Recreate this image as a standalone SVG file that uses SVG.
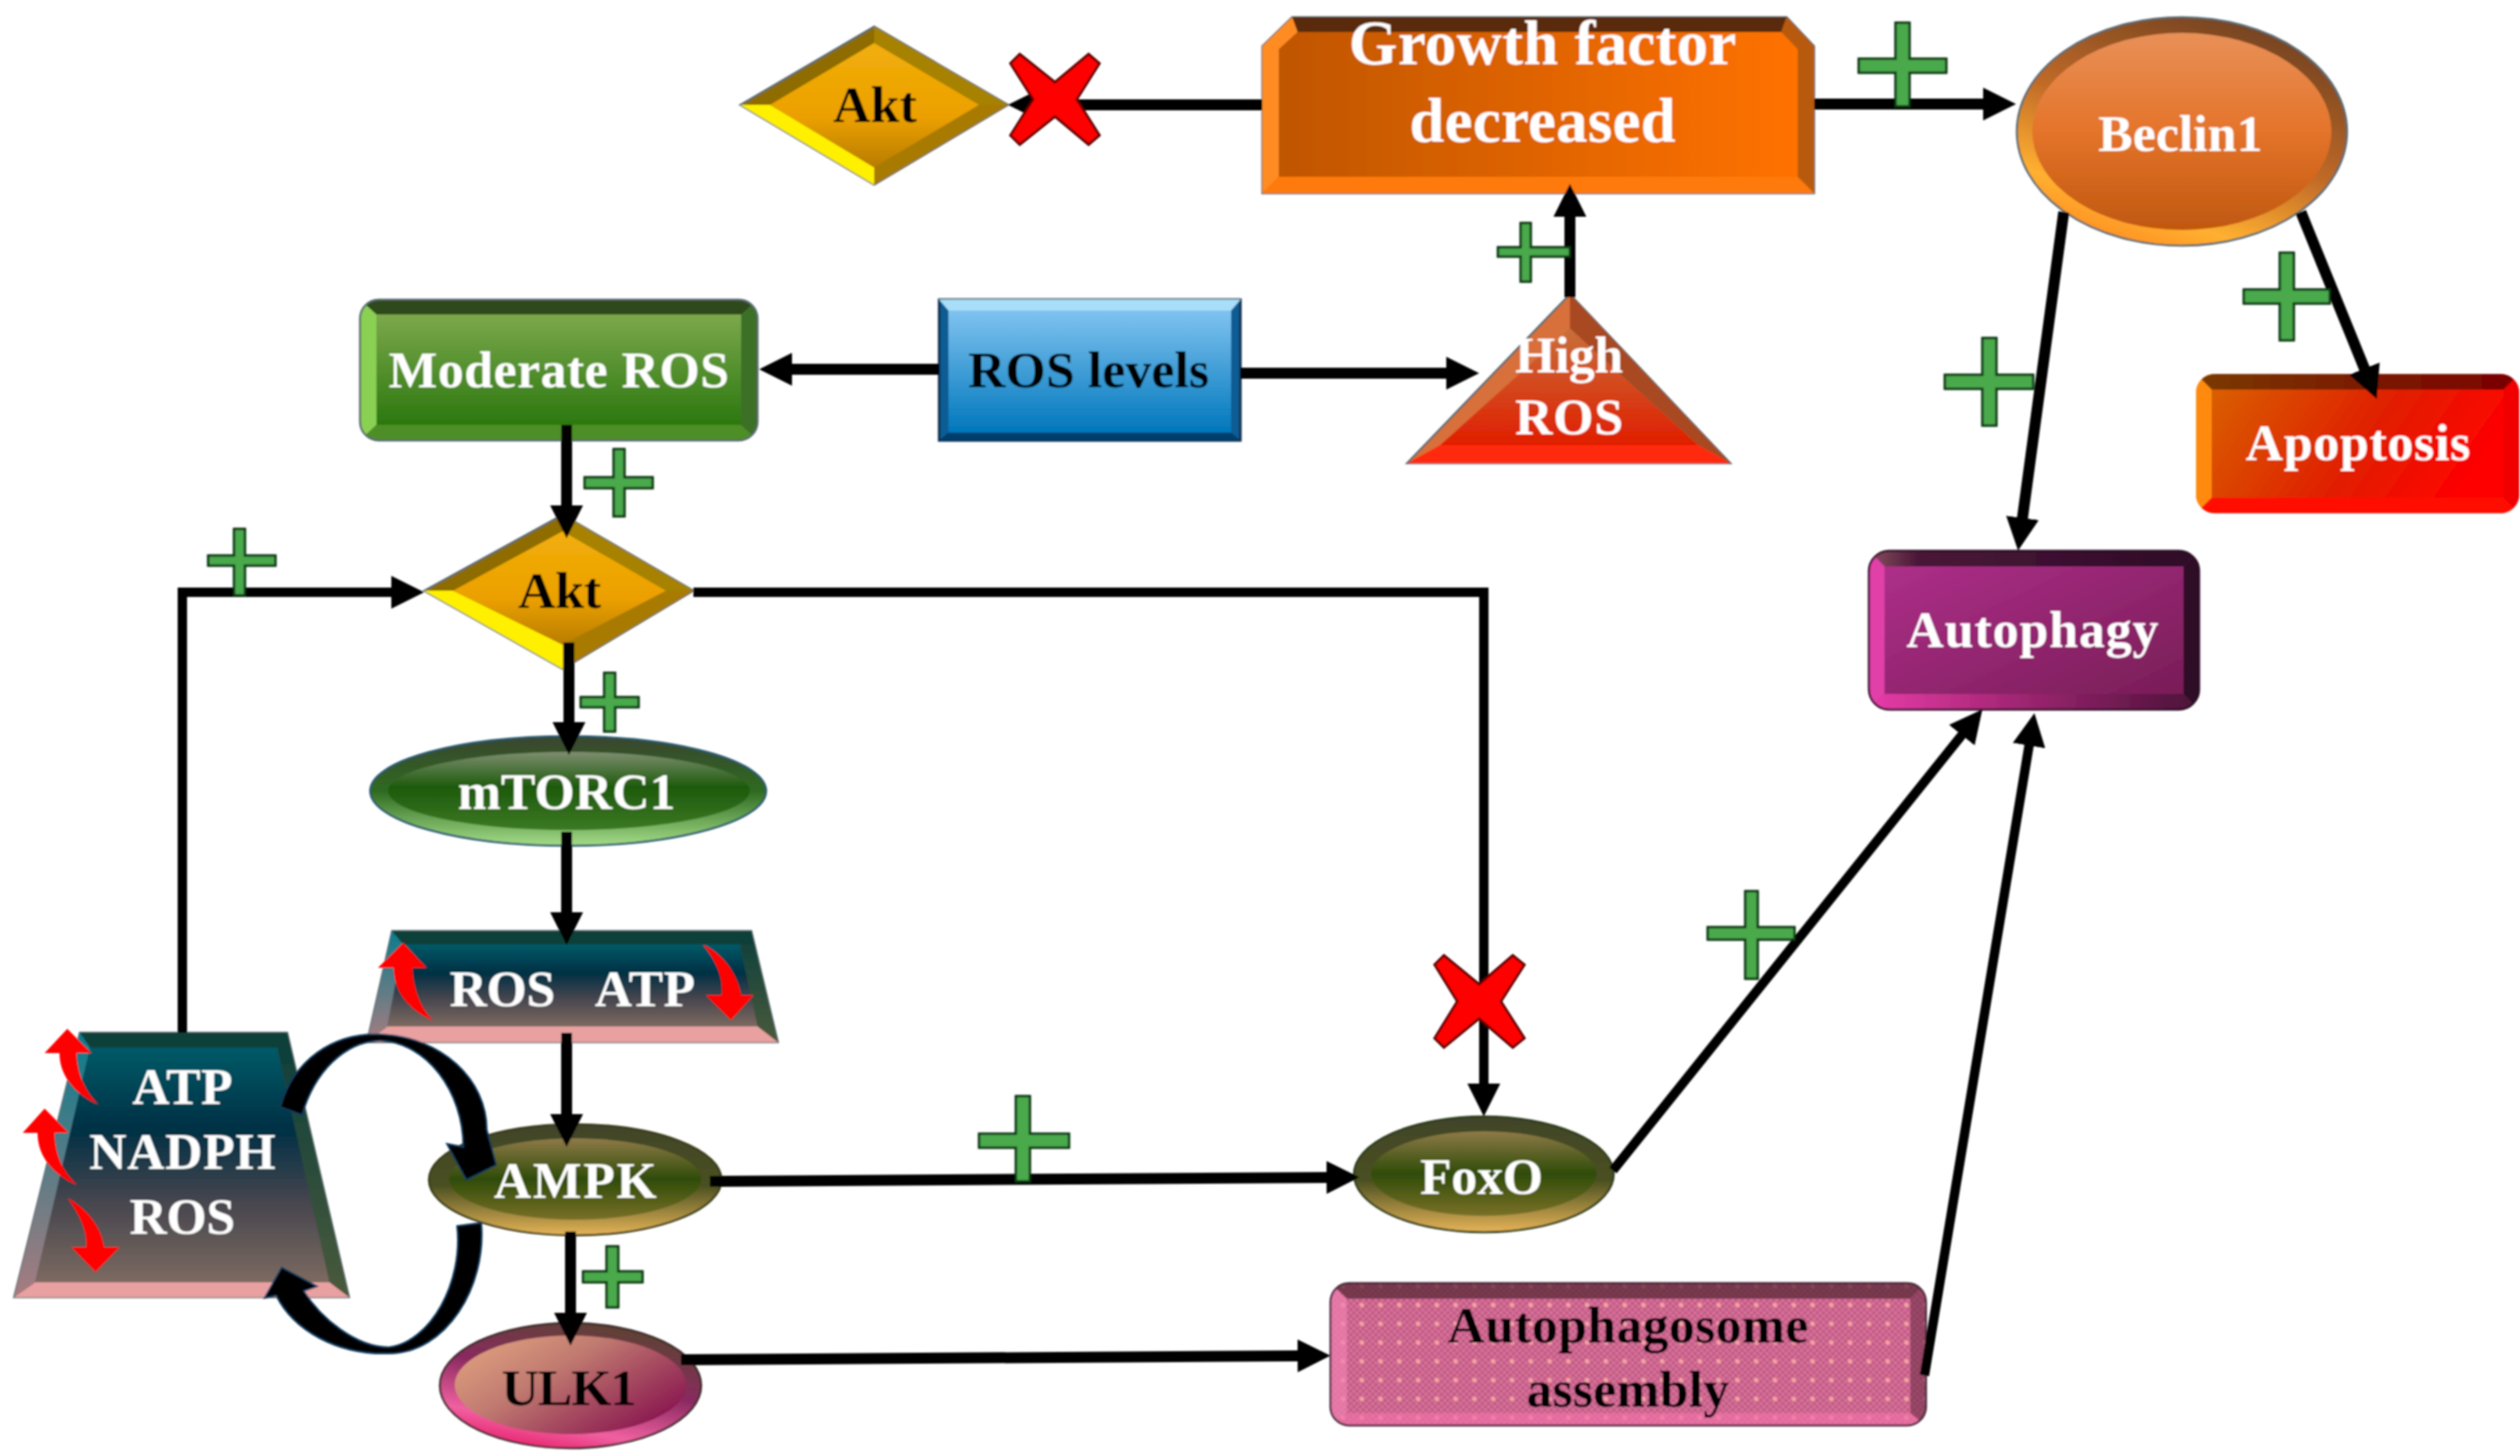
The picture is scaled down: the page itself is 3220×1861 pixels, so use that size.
<svg xmlns="http://www.w3.org/2000/svg" width="3220" height="1861" viewBox="0 0 3220 1861">
<style>
text{font-family:"Liberation Serif","Times New Roman",serif;font-weight:bold;font-size:66px;text-anchor:middle}
.w{fill:#fff}.k{fill:#000}
.ln{fill:none;stroke:#000;stroke-width:14;marker-end:url(#arr)}
.th{stroke-width:12}
.plus{fill:#49A94B;stroke:#0d3410;stroke-width:3}
.x{fill:#f00;stroke:#5a0000;stroke-width:3}
.red{fill:#f00}
.loop{fill:#000;stroke:#123a5a;stroke-width:2}
.edge{stroke:#5a6a70;stroke-width:2.5}
</style>
<defs>
<filter id="soft" filterUnits="userSpaceOnUse" x="0" y="0" width="3220" height="1861"><feGaussianBlur stdDeviation="1"/></filter>
<marker id="arr" markerUnits="userSpaceOnUse" markerWidth="44" markerHeight="44" viewBox="0 0 44 44" refX="2" refY="22" orient="auto"><path d="M0,1L42,22L0,43z" fill="#000"/></marker>
<linearGradient id="gAkt" x1="0" y1="0" x2="0" y2="1"><stop offset="0" stop-color="#F2AE0A"/><stop offset=".6" stop-color="#EBA000"/><stop offset="1" stop-color="#B87C00"/></linearGradient>
<linearGradient id="gGrowth" x1="0" y1="0" x2="1" y2="0"><stop offset="0" stop-color="#C05600"/><stop offset="1" stop-color="#FF7200"/></linearGradient>
<linearGradient id="gRos" x1="0" y1="0" x2="0" y2="1"><stop offset="0" stop-color="#7FC3F0"/><stop offset="1" stop-color="#0077BC"/></linearGradient>
<linearGradient id="gMod" x1="0" y1="0" x2="0" y2="1"><stop offset="0" stop-color="#7CA84C"/><stop offset="1" stop-color="#2C780F"/></linearGradient>
<linearGradient id="gHigh" x1="0" y1="0" x2="0" y2="1"><stop offset="0" stop-color="#C8703A"/><stop offset="1" stop-color="#E01E00"/></linearGradient>
<linearGradient id="gApo" x1="0" y1="0" x2="1" y2=".3"><stop offset="0" stop-color="#D86800"/><stop offset=".6" stop-color="#E02000"/><stop offset="1" stop-color="#FF0000"/></linearGradient>
<linearGradient id="gApoT" x1="0" y1="0" x2="1" y2="0"><stop offset="0" stop-color="#7A3A00"/><stop offset="1" stop-color="#7A0000"/></linearGradient>
<linearGradient id="gAuto" x1="0" y1="0" x2="1" y2="1"><stop offset="0" stop-color="#B2308E"/><stop offset="1" stop-color="#741C52"/></linearGradient>
<linearGradient id="gAutoT" x1="0" y1="0" x2="1" y2="0"><stop offset="0" stop-color="#8A5060"/><stop offset=".15" stop-color="#4A1638"/><stop offset="1" stop-color="#2E0C28"/></linearGradient>
<linearGradient id="gAutoB" x1="0" y1="0" x2="1" y2="0"><stop offset="0" stop-color="#E83CA8"/><stop offset=".4" stop-color="#A82878"/><stop offset="1" stop-color="#4A1238"/></linearGradient>
<linearGradient id="gBecF" x1="0" y1="0" x2="0" y2="1"><stop offset="0" stop-color="#E89058"/><stop offset=".5" stop-color="#E4742A"/><stop offset="1" stop-color="#C05810"/></linearGradient>
<linearGradient id="gBecR" x1=".75" y1="0" x2=".25" y2="1"><stop offset="0" stop-color="#6E4020"/><stop offset=".5" stop-color="#C06A28"/><stop offset=".82" stop-color="#FFB030"/><stop offset="1" stop-color="#FF8A20"/></linearGradient>
<linearGradient id="gMtF" x1="0" y1="0" x2="0" y2="1"><stop offset="0" stop-color="#7E8E70"/><stop offset=".45" stop-color="#1E5A0C"/><stop offset="1" stop-color="#3C7A24"/></linearGradient>
<linearGradient id="gMtR" x1="0" y1="0" x2="0" y2="1"><stop offset="0" stop-color="#3A4630"/><stop offset=".5" stop-color="#2E6A20"/><stop offset="1" stop-color="#A4DC88"/></linearGradient>
<linearGradient id="gTrap" x1="0" y1="0" x2="0" y2="1"><stop offset="0" stop-color="#005A68"/><stop offset=".35" stop-color="#003044"/><stop offset=".65" stop-color="#45454E"/><stop offset="1" stop-color="#7C6A60"/></linearGradient>
<linearGradient id="gTrapL" x1="0" y1="0" x2="0" y2="1"><stop offset="0" stop-color="#0A7C8C"/><stop offset="1" stop-color="#A87C80"/></linearGradient>
<linearGradient id="gTrapR" x1="0" y1="0" x2="0" y2="1"><stop offset="0" stop-color="#0A3E3A"/><stop offset="1" stop-color="#4A5A3A"/></linearGradient>
<linearGradient id="gAmF" x1="0" y1="0" x2="0" y2="1"><stop offset="0" stop-color="#8F7A48"/><stop offset=".5" stop-color="#2F4C08"/><stop offset="1" stop-color="#7A7028"/></linearGradient>
<linearGradient id="gAmR" x1="0" y1="0" x2="0" y2="1"><stop offset="0" stop-color="#41442A"/><stop offset=".55" stop-color="#4A5020"/><stop offset="1" stop-color="#E6B458"/></linearGradient>
<linearGradient id="gUlF" x1="0" y1="0" x2="1" y2=".7"><stop offset="0" stop-color="#E6A882"/><stop offset=".45" stop-color="#C07A70"/><stop offset="1" stop-color="#8A1850"/></linearGradient>
<linearGradient id="gUlR" x1=".7" y1="0" x2=".3" y2="1"><stop offset="0" stop-color="#5A4430"/><stop offset=".45" stop-color="#8A2A60"/><stop offset=".8" stop-color="#F060A0"/><stop offset="1" stop-color="#E8206C"/></linearGradient>
<pattern id="pDots" width="24" height="24" patternUnits="userSpaceOnUse"><rect width="24" height="24" fill="#C45A86"/><path d="M0,0h4v4h-4zM8,0h4v4h-4zM16,0h4v4h-4zM4,4h4v4h-4zM12,4h4v4h-4zM20,4h4v4h-4zM0,8h4v4h-4zM8,8h4v4h-4zM16,8h4v4h-4zM4,12h4v4h-4zM12,12h4v4h-4zM20,12h4v4h-4zM0,16h4v4h-4zM8,16h4v4h-4zM16,16h4v4h-4zM4,20h4v4h-4zM12,20h4v4h-4zM20,20h4v4h-4z" fill="#D47298"/><circle cx="12" cy="12" r="3" fill="#F4A0A0"/></pattern>
<clipPath id="cMod"><rect x="460" y="383" width="508" height="180" rx="24"/></clipPath>
<clipPath id="cApo"><rect x="2806" y="478" width="413" height="178" rx="24"/></clipPath>
<clipPath id="cAuto"><rect x="2388" y="704" width="422" height="203" rx="26"/></clipPath>
<clipPath id="cPhago"><rect x="1700" y="1640" width="761" height="182" rx="24"/></clipPath>
</defs>
<g filter="url(#soft)">
<g id="node-akt-top">
<polygon points="946,134 1117,34 1288,134 1117,236" fill="#8F6C00" class="edge"/>
<polygon points="946,134 1117,236 1117,214 984,134" fill="#FFF000"/>
<polygon points="1288,134 1117,236 1117,214 1251,134" fill="#A87A00"/>
<polygon points="1117,34 1288,134 1251,134 1117,55" fill="#A68200"/>
<polygon points="984,134 1117,55 1251,134 1117,214" fill="url(#gAkt)"/>
<text x="1118" y="156" class="k" textLength="107">Akt</text>
</g>
<g id="node-growth">
<polygon points="1651,22 2283,22 2318,59 2318,247 1613,247 1613,59" fill="#D06000" class="edge"/>
<polygon points="1651,22 2283,22 2276,41 1658,41" fill="#5A2C08"/>
<polygon points="1613,59 1651,22 1658,41 1634,63 1634,226 1613,247" fill="#FF8C24"/>
<polygon points="2318,59 2283,22 2276,41 2297,63 2297,226 2318,247" fill="#B85A10"/>
<polygon points="1613,247 2318,247 2297,226 1634,226" fill="#FF7A10"/>
<polygon points="1658,41 2276,41 2297,63 2297,226 1634,226 1634,63" fill="url(#gGrowth)"/>
<text x="1971" y="82" class="w" style="font-size:80px" textLength="495">Growth factor</text>
<text x="1971" y="181" class="w" style="font-size:80px" textLength="340">decreased</text>
</g>
<g id="node-beclin">
<ellipse cx="2788" cy="168" rx="211" ry="146" fill="url(#gBecR)" class="edge"/>
<ellipse cx="2788" cy="168" rx="191" ry="126" fill="url(#gBecF)"/>
<text x="2786" y="193" class="w" textLength="210">Beclin1</text>
</g>
<g id="node-ros-levels">
<rect x="1200" y="383" width="385" height="180" fill="#0A5C94" stroke="#0A2A48" stroke-width="3"/>
<polygon points="1200,383 1585,383 1573,397 1212,397" fill="#A8DEF8"/>
<polygon points="1200,563 1585,563 1573,553 1212,553" fill="#003E6C"/>
<rect x="1212" y="397" width="361" height="156" fill="url(#gRos)"/>
<text x="1391" y="495" class="k" textLength="308">ROS levels</text>
</g>
<g id="node-moderate-ros">
<g clip-path="url(#cMod)">
<rect x="460" y="383" width="508" height="180" fill="#3B7025"/>
<polygon points="460,383 968,383 947,402 481,402" fill="#2F4A1F"/>
<polygon points="460,383 481,402 481,543 460,563" fill="#8AD052"/>
<polygon points="460,563 968,563 947,543 481,543" fill="#4D8E26"/>
<rect x="481" y="402" width="466" height="141" fill="url(#gMod)"/>
</g>
<rect x="460" y="383" width="508" height="180" rx="24" fill="none" class="edge"/>
<text x="714" y="495" class="w" textLength="435">Moderate ROS</text>
</g>
<g id="node-high-ros">
<polygon points="2006,376 2211,592 1798,592" fill="#D8703A" class="edge"/>
<polygon points="2006,376 2211,592 2170,569 2006,420" fill="#A84A20"/>
<polygon points="1798,592 2211,592 2170,569 1840,569" fill="#FF2A10"/>
<polygon points="2006,420 2170,569 1840,569" fill="url(#gHigh)"/>
<text x="2005" y="476" class="w" textLength="138">High</text>
<text x="2005" y="555" class="w" textLength="138">ROS</text>
</g>
<g id="node-apoptosis">
<g clip-path="url(#cApo)">
<rect x="2806" y="478" width="413" height="178" fill="url(#gApo)"/>
<polygon points="2806,478 3219,478 3199,498 2826,498" fill="url(#gApoT)"/>
<polygon points="2806,478 2826,498 2826,636 2806,656" fill="#FF8A10"/>
<polygon points="2806,656 3219,656 3199,636 2826,636" fill="#FF1000"/>
<polygon points="3219,478 3199,498 3199,636 3219,656" fill="#F00000"/>
</g>
<text x="3013" y="588" class="w" textLength="287">Apoptosis</text>
</g>
<g id="node-autophagy">
<g clip-path="url(#cAuto)">
<rect x="2388" y="704" width="422" height="203" fill="url(#gAuto)"/>
<polygon points="2388,704 2810,704 2790,724 2408,724" fill="url(#gAutoT)"/>
<polygon points="2388,704 2408,724 2408,887 2388,907" fill="#E040A8"/>
<polygon points="2388,907 2810,907 2790,887 2408,887" fill="url(#gAutoB)"/>
<polygon points="2810,704 2790,724 2790,887 2810,907" fill="#2E0C28"/>
</g>
<rect x="2388" y="704" width="422" height="203" rx="26" fill="none" stroke="#2A0A20" stroke-width="2.5"/>
<text x="2597" y="827" class="w" textLength="322">Autophagy</text>
</g>
<g id="node-akt">
<polygon points="542,755 719,658 886,755 719,855" fill="#8F6C00" class="edge"/>
<polygon points="542,755 719,855 719,824 579,755" fill="#FFF000"/>
<polygon points="886,755 719,855 719,824 851,755" fill="#A87A00"/>
<polygon points="719,658 886,755 851,755 719,679" fill="#A68200"/>
<polygon points="579,755 719,679 851,755 719,824" fill="url(#gAkt)"/>
<text x="715" y="777" class="k" textLength="106">Akt</text>
</g>
<g id="node-mtorc1">
<ellipse cx="726" cy="1011" rx="253" ry="70" fill="url(#gMtR)" stroke="#2A5A70" stroke-width="2.5"/>
<ellipse cx="727" cy="1011" rx="231" ry="50" fill="url(#gMtF)"/>
<text x="724" y="1034" class="w" textLength="278">mTORC1</text>
</g>
<g id="node-ros-atp">
<polygon points="501,1190 960,1190 994,1332 469,1332" fill="#444" class="edge"/>
<polygon points="501,1190 960,1190 945,1207 515,1207" fill="#0A4038"/>
<polygon points="501,1190 515,1207 495,1312 469,1332" fill="url(#gTrapL)"/>
<polygon points="960,1190 945,1207 968,1312 994,1332" fill="url(#gTrapR)"/>
<polygon points="469,1332 994,1332 968,1312 495,1312" fill="#E8A0A0"/>
<polygon points="515,1207 945,1207 968,1312 495,1312" fill="url(#gTrap)"/>
<text x="642" y="1286" class="w" textLength="135">ROS</text>
<text x="824" y="1286" class="w" textLength="128">ATP</text>
<path class="red" d="M515,1205L545,1237L527,1237C528,1265 538,1290 554,1305C520,1290 503,1265 503,1237L483,1237Z"/>
<path class="red" d="M934,1304L963,1272L947,1272C942,1245 925,1220 898,1207C915,1228 925,1250 922,1272L902,1272Z"/>
</g>
<g id="node-atp-nadph-ros">
<polygon points="102,1320 367,1320 446,1658 18,1658" fill="#444" class="edge"/>
<polygon points="102,1320 367,1320 354,1339 115,1339" fill="#0A4038"/>
<polygon points="102,1320 115,1339 45,1639 18,1658" fill="url(#gTrapL)"/>
<polygon points="367,1320 354,1339 421,1639 446,1658" fill="url(#gTrapR)"/>
<polygon points="18,1658 446,1658 421,1639 45,1639" fill="#E8A0A0"/>
<polygon points="115,1339 354,1339 421,1639 45,1639" fill="url(#gTrap)"/>
<text x="233" y="1411" class="w" textLength="128">ATP</text>
<text x="233" y="1494" class="w" textLength="238">NADPH</text>
<text x="233" y="1577" class="w" textLength="135">ROS</text>
<path class="red" d="M86,1315L117,1346L98,1346C98,1370 108,1395 126,1412C92,1397 76,1372 76,1346L57,1346Z"/>
<path class="red" d="M57,1417L88,1448L70,1448C70,1475 80,1498 99,1515C64,1500 48,1475 48,1448L29,1448Z"/>
<path class="red" d="M122,1626L153,1594L133,1594C130,1570 112,1545 86,1531C100,1550 112,1572 110,1594L91,1594Z"/>
</g>
<g id="node-ampk">
<ellipse cx="735" cy="1508" rx="187" ry="71" fill="url(#gAmR)" stroke="#3A3A1A" stroke-width="2.5"/>
<ellipse cx="735" cy="1507" rx="161" ry="52" fill="url(#gAmF)"/>
<text x="735" y="1531" class="w" textLength="208">AMPK</text>
</g>
<g id="node-foxo">
<ellipse cx="1896" cy="1501" rx="166" ry="74" fill="url(#gAmR)" stroke="#2A3A1A" stroke-width="2.5"/>
<ellipse cx="1896" cy="1500" rx="144" ry="54" fill="url(#gAmF)"/>
<text x="1893" y="1526" class="w" textLength="157">FoxO</text>
</g>
<g id="node-ulk1">
<ellipse cx="729" cy="1771" rx="167" ry="80" fill="url(#gUlR)" stroke="#3A2A2A" stroke-width="2.5"/>
<ellipse cx="729" cy="1770" rx="148" ry="63" fill="url(#gUlF)"/>
<text x="727" y="1796" class="k" textLength="172">ULK1</text>
</g>
<g id="node-autophagosome">
<g clip-path="url(#cPhago)">
<rect x="1700" y="1640" width="761" height="182" fill="url(#pDots)"/>
<polygon points="1700,1640 2461,1640 2441,1660 1721,1660" fill="#5A2A38" opacity=".75"/>
<polygon points="1700,1640 1721,1660 1721,1806 1700,1822" fill="#F080B0" opacity=".7"/>
<polygon points="1700,1822 2461,1822 2441,1806 1721,1806" fill="#F070A8" opacity=".7"/>
<polygon points="2461,1640 2441,1660 2441,1806 2461,1822" fill="#703048" opacity=".6"/>
</g>
<rect x="1700" y="1640" width="761" height="182" rx="24" fill="none" stroke="#4A2A3A" stroke-width="2.5"/>
<text x="2080" y="1716" class="k" textLength="461">Autophagosome</text>
<text x="2080" y="1798" class="k" textLength="259">assembly</text>
</g>

<g id="connectors">
<path class="ln" d="M1613,134H1328"/>
<path class="ln" d="M2318,133H2536"/>
<path class="ln" d="M2006,380V275"/>
<path class="ln" d="M1200,472H1010"/>
<path class="ln" d="M1585,477H1850"/>
<path class="ln" d="M724,543V648"/>
<path class="ln" d="M727,821V925"/>
<path class="ln" d="M724,1063V1168"/>
<path class="ln" d="M724,1320V1426"/>
<path class="ln" d="M729,1574V1680"/>
<path class="ln th" d="M233,1320V757H502"/>
<path class="ln th" d="M886,757H1896V1387"/>
<path class="ln" d="M907,1510L1697,1505"/>
<path class="ln" d="M870,1738L1660,1733"/>
<path class="ln th" d="M2061,1496L2508,938"/>
<path class="ln th" d="M2459,1758L2593,951"/>
<path class="ln" d="M2637,271L2584,664"/>
<path class="ln" d="M2940,271L3022,473"/>
<path class="loop" d="M358,1415C375,1355 425,1320 485,1322C565,1325 622,1380 622,1444L634,1489L596,1508L571,1462L592,1466C592,1395 545,1332 485,1330C440,1332 402,1370 386,1425Z"/>
<path class="loop" d="M584,1567L615,1563C622,1645 570,1730 497,1730C430,1732 375,1700 353,1656L338,1659L360,1620L405,1644L388,1650C410,1685 455,1722 497,1722C550,1715 592,1640 584,1567Z"/>
</g>

<g id="marks">
<path class="plus" d="M1943,285h13v31h50v12h-50v32h-13v-32h-29v-12h29z"/>
<path class="plus" d="M2422,29h18v46h47v18h-47v43h-18v-43h-47v-18h47z"/>
<path class="plus" d="M2913,323h18v47h46v18h-46v47h-18v-47h-46v-18h46z"/>
<path class="plus" d="M2533,432h18v47h47v18h-47v47h-18v-47h-48v-18h48z"/>
<path class="plus" d="M784,574h14v36h36v14h-36v36h-14v-36h-37v-14h37z"/>
<path class="plus" d="M772,860h14v31h30v13h-30v31h-14v-31h-30v-13h30z"/>
<path class="plus" d="M299,676h14v34h39v13h-39v38h-14v-38h-33v-13h33z"/>
<path class="plus" d="M775,1593h15v32h31v14h-31v32h-15v-32h-30v-14h30z"/>
<path class="plus" d="M1298,1401h18v48h50v18h-50v43h-18v-43h-47v-18h47z"/>
<path class="plus" d="M2230,1139h16v46h47v16h-47v50h-16v-50h-48v-16h48z"/>
<path class="x" d="M1303,69L1348,105L1391,69L1405,81L1376,127L1405,173L1391,185L1348,149L1303,185L1291,173L1320,127L1291,81Z"/>
<path class="x" d="M1845,1221L1890,1258L1933,1221L1948,1233L1918,1280L1948,1327L1933,1339L1890,1302L1845,1339L1833,1327L1862,1280L1833,1233Z"/>
</g>
</g>
</svg>
